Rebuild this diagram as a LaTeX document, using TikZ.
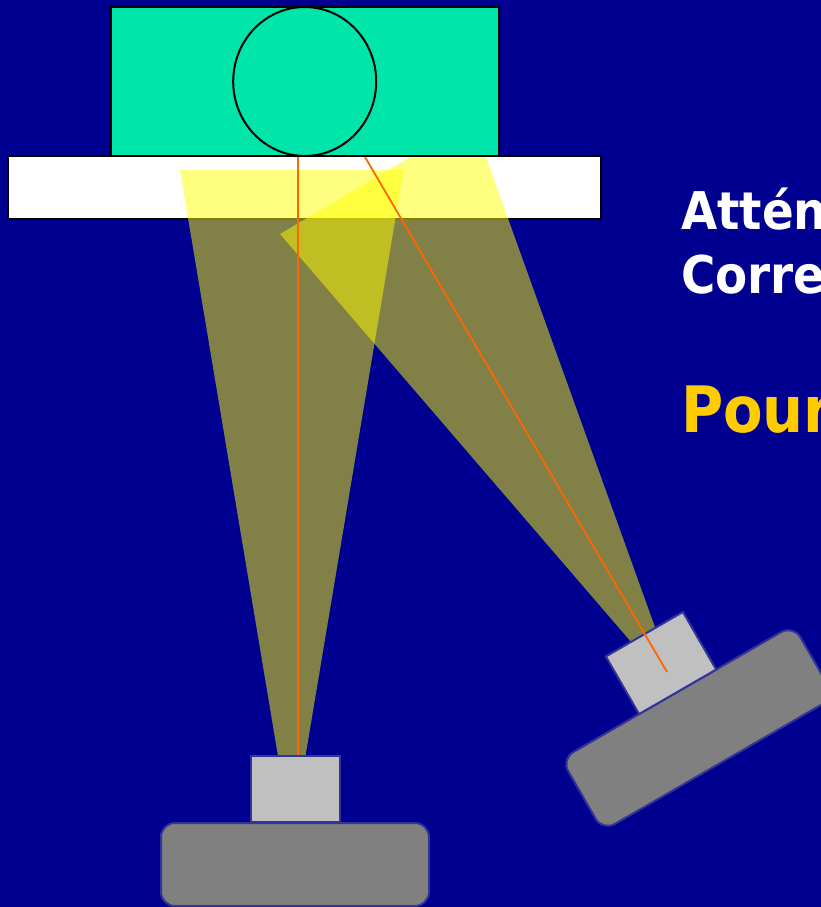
\documentclass[tikz,border=0pt]{standalone}
\usepackage{fontspec}
\setmainfont{DejaVu Sans Condensed}
\usepackage{tikz}
\usetikzlibrary{shapes.geometric}
\definecolor{navybg}{RGB}{0,0,144}
\definecolor{tablegreen}{RGB}{0,230,170}
\definecolor{edgeblue}{RGB}{51,51,153}
\definecolor{rayorange}{RGB}{255,102,0}
\definecolor{titlegold}{RGB}{255,204,0}
\definecolor{beamyellow}{RGB}{255,255,0}
\definecolor{headgray}{RGB}{192,192,192}
\definecolor{basegray}{RGB}{128,128,128}
\begin{document}
\begin{tikzpicture}[
    x=1pt, y=-1pt,
    plate/.style={draw=black, line width=2pt, inner sep=0pt},
    beam/.style={fill=beamyellow, fill opacity=0.5, draw=none},
    head/.style={draw=edgeblue, line width=2pt, fill=headgray, inner sep=0pt, minimum width=89pt, minimum height=66.5pt},
    base/.style={draw=edgeblue, line width=2pt, fill=basegray, inner sep=0pt, rounded corners=14pt, minimum width=268pt, minimum height=83pt},
    ray/.style={draw=rayorange, line width=1.8pt},
    caption/.style={anchor=base west, inner sep=0pt, text=white}]
  \clip (0,0) rectangle (821,907);
  \fill[navybg] (0,0) rectangle (821,907);
  \node[plate, fill=white, minimum width=593pt, minimum height=63pt] (glass) at (304.7,187.5) {};
  \fill[beam] (180,170) -- (403.5,170) -- (305.5,756) -- (278,756) -- cycle;
  \fill[beam] (280,234) -- (412,156) -- (485.5,156) -- (656,630) -- (632,643) -- cycle;
  \node[plate, fill=tablegreen, minimum width=388.5pt, minimum height=149pt] (table) at (305,81.5) {};
  \node[draw=black, line width=2pt, ellipse, inner sep=0pt, minimum width=143pt, minimum height=149pt] (phantom) at (304.7,81.5) {};
  \node[base] (baseA) at (295,864.5) {};
  \node[head] (headA) at (295.5,789) {};
  \node[base, rotate=30] (baseB) at (698,728) {};
  \node[head, rotate=30] (headB) at (661,663) {};
  \coordinate (entryA) at (298,157);
  \coordinate (exitA) at (298,755);
  \coordinate (entryB) at (365,157);
  \coordinate (exitB) at (667,672);
  \draw[ray] (entryA) -- (exitA);
  \draw[ray] (entryB) -- (exitB);
  \node[caption, font=\bfseries\fontsize{52}{52}\selectfont] (lineA) at (681,229) {Attén};
  \node[caption, font=\bfseries\fontsize{52}{52}\selectfont] (lineB) at (681,293) {Corre};
  \node[caption, font=\bfseries\fontsize{64}{64}\selectfont, text=titlegold] (lineC) at (681,432) {Pour};
\end{tikzpicture}
\end{document}
